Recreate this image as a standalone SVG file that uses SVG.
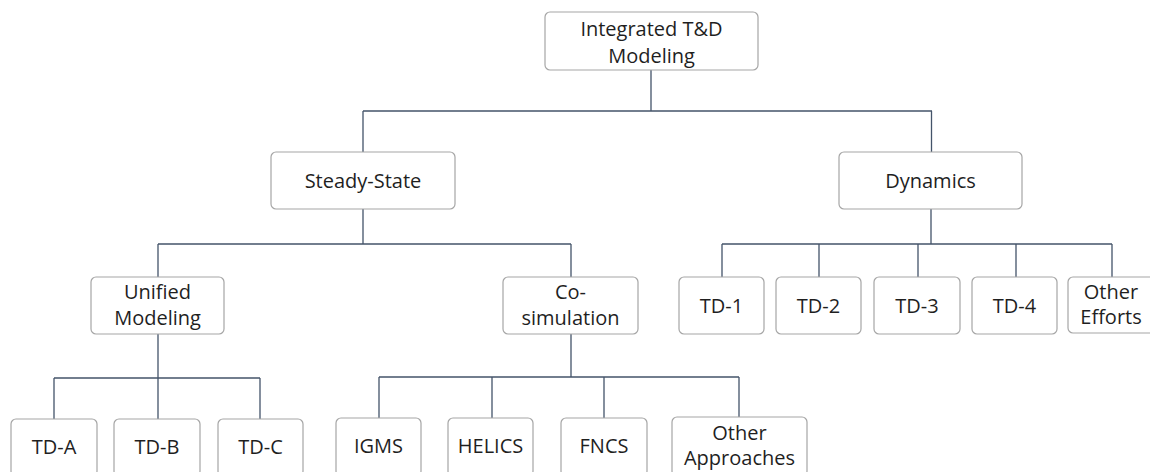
<svg xmlns="http://www.w3.org/2000/svg" width="1150" height="472" viewBox="0 0 1150 472">
<style>
.box{fill:#ffffff;stroke:#a6a6a6;stroke-width:1.2}
.lbl{font-family:"Open Sans","Liberation Sans",sans-serif;font-size:20px;fill:#1f1f1f;text-anchor:middle}
.conn{fill:none;stroke:#44546a;stroke-width:1.3}
</style>
<rect width="1150" height="472" fill="#ffffff"/>
<g id="connectors">
<path class="conn" d="M651 70V111M363 111H932M363 111V152M931.5 111V152"/>
<path class="conn" d="M363 209V244M158 244H571M158 244V277M571 244V277"/>
<path class="conn" d="M931 209V244M722 244H1112M722 244V277M819 244V277M918 244V277M1016 244V277M1112 244V277"/>
<path class="conn" d="M158 334V378M54 378H260M54 378V419M158 378V419M260 378V419"/>
<path class="conn" d="M571 334V377M379 377H739M379 377V418M492 377V418M604 377V418M739 377V418"/>
</g>
<g id="root"><rect class="box" x="545" y="12" width="213" height="58" rx="5"/><text class="lbl" x="651.5" y="35.5">Integrated T&amp;D</text><text class="lbl" x="651.5" y="62.5">Modeling</text></g>
<g id="steady"><rect class="box" x="271" y="152" width="184" height="57" rx="5"/><text class="lbl" x="363" y="188">Steady-State</text></g>
<g id="dynamics"><rect class="box" x="839" y="152" width="183" height="57" rx="5"/><text class="lbl" x="930.5" y="188">Dynamics</text></g>
<g id="unified"><rect class="box" x="91" y="277" width="133" height="57" rx="5"/><text class="lbl" x="157.5" y="299">Unified</text><text class="lbl" x="157.5" y="325">Modeling</text></g>
<g id="cosim"><rect class="box" x="503" y="277" width="135" height="57" rx="5"/><text class="lbl" x="570.5" y="299">Co-</text><text class="lbl" x="570.5" y="325">simulation</text></g>
<g id="td1"><rect class="box" x="679" y="277" width="85" height="57" rx="5"/><text class="lbl" x="721.5" y="313">TD-1</text></g>
<g id="td2"><rect class="box" x="776" y="277" width="85" height="57" rx="5"/><text class="lbl" x="818.5" y="313">TD-2</text></g>
<g id="td3"><rect class="box" x="874" y="277" width="86" height="57" rx="5"/><text class="lbl" x="917" y="313">TD-3</text></g>
<g id="td4"><rect class="box" x="972" y="277" width="85" height="57" rx="5"/><text class="lbl" x="1014.5" y="313">TD-4</text></g>
<g id="otherEfforts"><rect class="box" x="1068" y="277" width="88" height="56" rx="5"/><text class="lbl" x="1111" y="299">Other</text><text class="lbl" x="1111" y="324">Efforts</text></g>
<g id="tdA"><rect class="box" x="11" y="419" width="86" height="57" rx="5"/><text class="lbl" x="54" y="454">TD-A</text></g>
<g id="tdB"><rect class="box" x="114" y="419" width="86" height="57" rx="5"/><text class="lbl" x="157" y="454">TD-B</text></g>
<g id="tdC"><rect class="box" x="218" y="419" width="85" height="57" rx="5"/><text class="lbl" x="260.5" y="454">TD-C</text></g>
<g id="igms"><rect class="box" x="336" y="418" width="85" height="58" rx="5"/><text class="lbl" x="378.5" y="453">IGMS</text></g>
<g id="helics"><rect class="box" x="448" y="418" width="85" height="58" rx="5"/><text class="lbl" x="490.5" y="453">HELICS</text></g>
<g id="fncs"><rect class="box" x="561" y="418" width="86" height="58" rx="5"/><text class="lbl" x="604" y="453">FNCS</text></g>
<g id="otherApproaches"><rect class="box" x="672" y="417" width="135" height="59" rx="5"/><text class="lbl" x="739.5" y="440">Other</text><text class="lbl" x="739.5" y="465">Approaches</text></g>
</svg>
